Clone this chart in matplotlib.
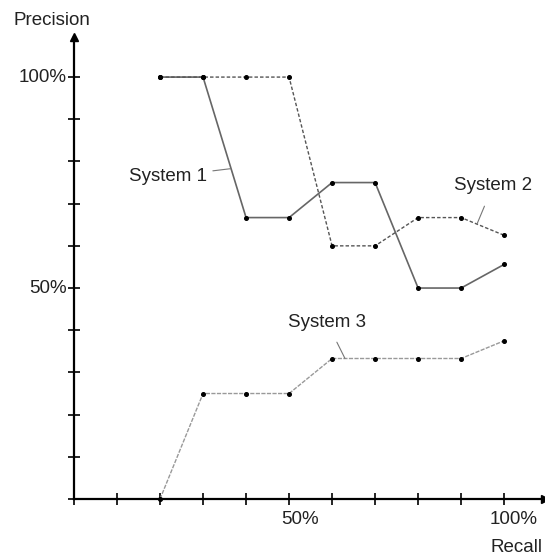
import matplotlib
matplotlib.use("Agg")
import matplotlib.pyplot as plt

recall = [20, 30, 40, 50, 60, 70, 80, 90, 100]
system1 = [100, 100, 66.7, 66.7, 75, 75, 50, 50, 55.6]
system2 = [100, 100, 100, 100, 60, 60, 66.7, 66.7, 62.5]
system3 = [0, 25, 25, 25, 33.3, 33.3, 33.3, 33.3, 37.5]
ticks = list(range(0, 101, 10))

plt.rcParams['font.family'] = ['Liberation Sans', 'DejaVu Sans']

W, H = 545, 555
fig = plt.figure(figsize=(W / 100, H / 100), dpi=100)
ax = fig.add_axes([74 / W, (H - 499) / H, (545 - 74) / W, (499 - 37) / H])
ax.set_xlim(0, 109.5)
ax.set_ylim(0, 109.5)

for s in ['top', 'right']:
    ax.spines[s].set_visible(False)
for s in ['left', 'bottom']:
    ax.spines[s].set_linewidth(1.6)
ax.set_xticks(ticks)
ax.set_yticks(ticks)
ax.set_xticklabels([])
ax.set_yticklabels([])
ax.tick_params(direction='inout', length=9, width=1.2, color='black')
ax.plot(1, 0, '>k', ms=6, transform=ax.transAxes, clip_on=False)
ax.plot(0, 1, '^k', ms=6, transform=ax.transAxes, clip_on=False)

ax.plot(recall, system1, color='#666666', lw=1.2, ls='-', marker='o', ms=2.6,
        mfc='black', mec='black', clip_on=False)
ax.plot(recall, system2, color='#555555', lw=1.0, ls=(0, (2.5, 1.5)), marker='o', ms=2.6,
        mfc='black', mec='black', clip_on=False)
ax.plot(recall, system3, color='#999999', lw=1.0, ls=(0, (3, 1)), marker='o', ms=2.6,
        mfc='black', mec='black', clip_on=False)

fs = 13.5
tc = '#222222'
ax.annotate('System 1', xy=(36.5, 78.3), xytext=(31.0, 76.5), ha='right', va='center',
            fontsize=fs, color=tc,
            arrowprops=dict(arrowstyle='-', color='#777777', lw=0.8, shrinkA=2, shrinkB=0))
ax.annotate('System 2', xy=(93.7, 65.2), xytext=(97.4, 74.2), ha='center', va='center',
            fontsize=fs, color=tc,
            arrowprops=dict(arrowstyle='-', color='#777777', lw=0.8, shrinkA=7, shrinkB=0))
ax.annotate('System 3', xy=(63.0, 33.3), xytext=(58.8, 41.9), ha='center', va='center',
            fontsize=fs, color=tc,
            arrowprops=dict(arrowstyle='-', color='#777777', lw=0.8, shrinkA=7, shrinkB=0))

ax.text(52.5, -4.8, '50%', ha='center', va='center', fontsize=fs, color=tc, clip_on=False)
ax.text(102.1, -4.8, '100%', ha='center', va='center', fontsize=fs, color=tc, clip_on=False)
ax.text(-1.6, 100, '100%', ha='right', va='center', fontsize=fs, color=tc, clip_on=False)
ax.text(-1.6, 50, '50%', ha='right', va='center', fontsize=fs, color=tc, clip_on=False)
ax.text(-5.1, 113.5, 'Precision', ha='center', va='center', fontsize=fs, color=tc, clip_on=False)
ax.text(102.8, -11.6, 'Recall', ha='center', va='center', fontsize=fs, color=tc, clip_on=False)

fig.savefig('out.png', dpi=100)
